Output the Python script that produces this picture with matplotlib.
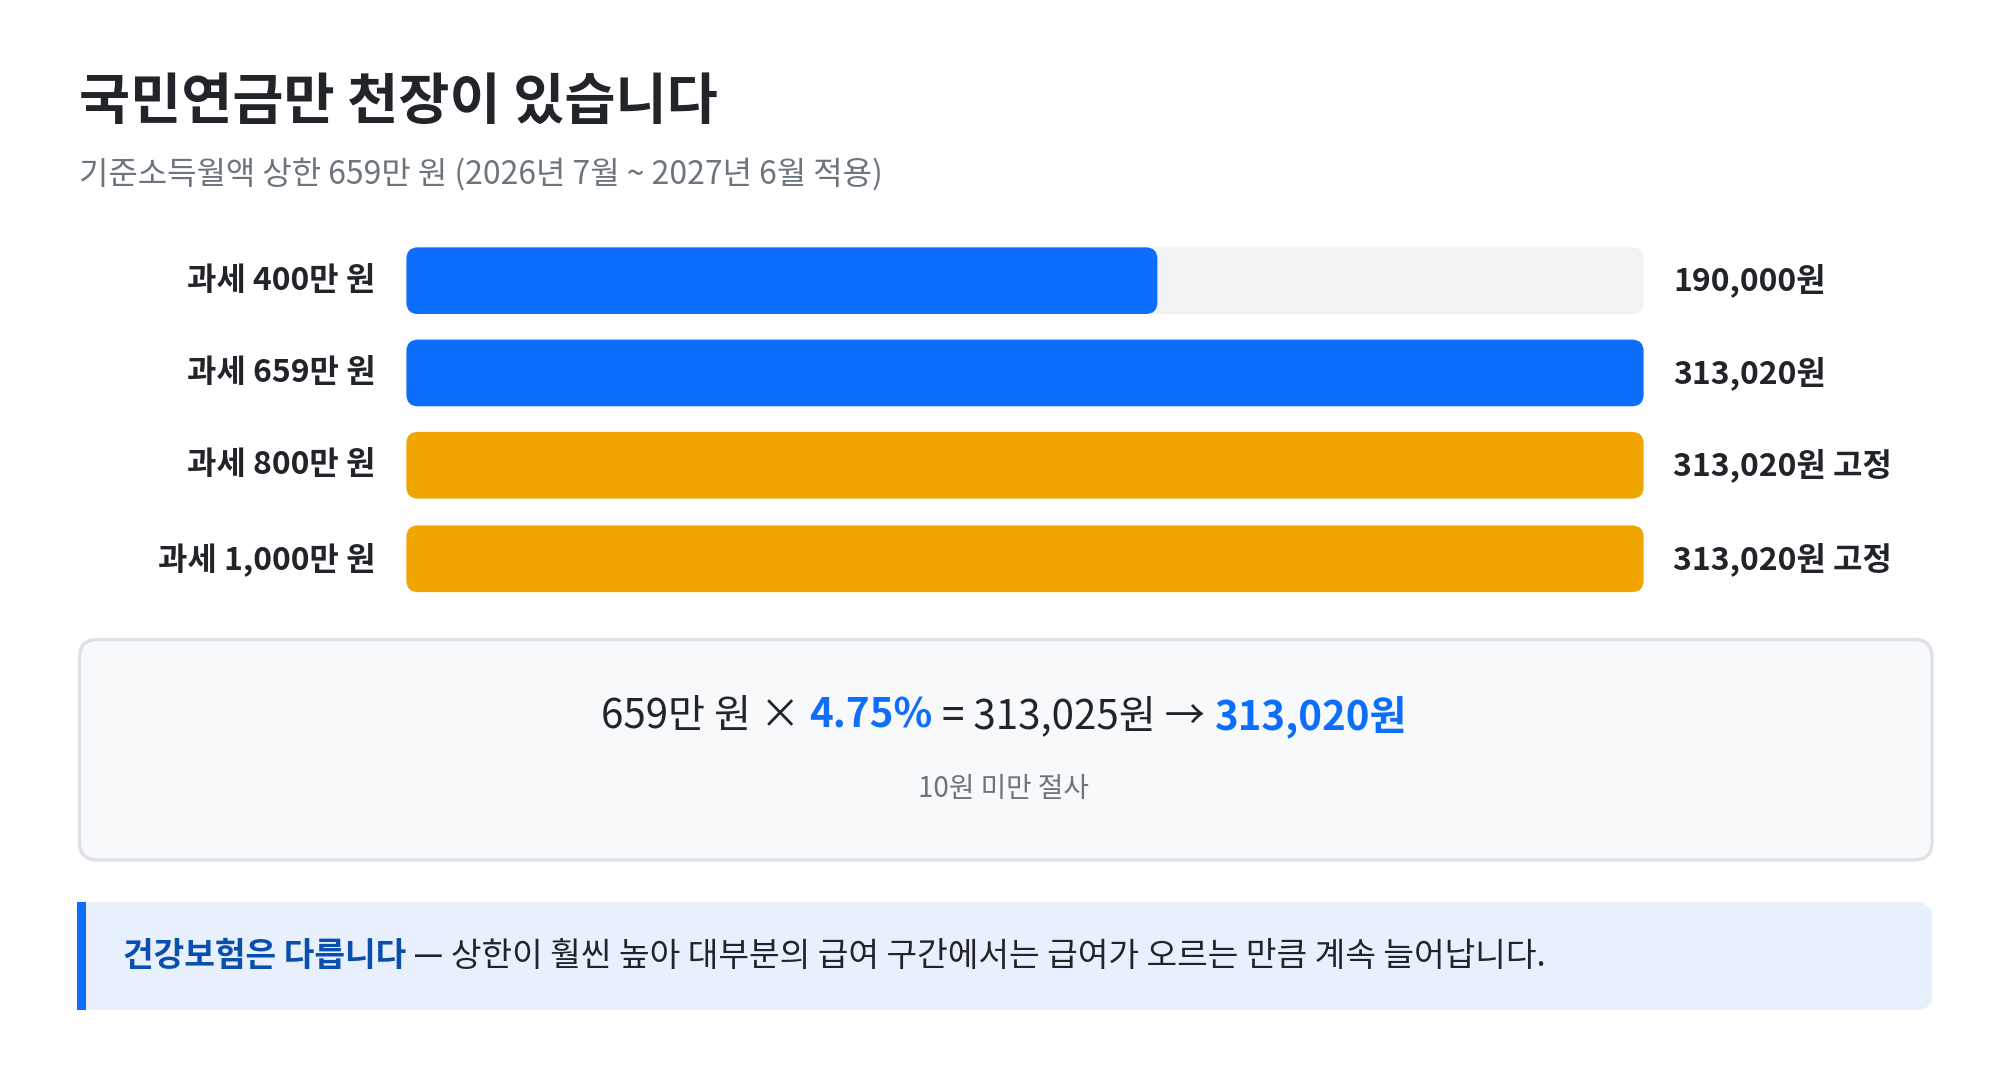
import matplotlib
matplotlib.use("Agg")
import matplotlib.pyplot as plt
from matplotlib.patches import FancyBboxPatch, Rectangle

plt.rcParams['font.family'] = ['Noto Sans CJK KR', 'DejaVu Sans']

title = "국민연금만 천장이 있습니다"
subtitle = "기준소득월액 상한 659만 원 (2026년 7월 ~ 2027년 6월 적용)"
labels = ["과세 400만 원", "과세 659만 원", "과세 800만 원", "과세 1,000만 원"]
values = [190000, 313020, 313020, 313020]
value_texts = ["190,000원", "313,020원", "313,020원 고정", "313,020원 고정"]
capped = [False, False, True, True]
max_value = 313020

BLUE = "#0d6efd"
ORANGE = "#f0a500"
DARK = "#212529"

W, H = 1560, 838
fig = plt.figure(figsize=(20, 10.74), dpi=100)
ax = fig.add_axes([0, 0, 1, 1])
ax.set_xlim(0, W)
ax.set_ylim(H, 0)
ax.axis("off")

ax.text(62, 80, title, fontsize=40, fontweight="bold", color=DARK, va="center")
ax.text(62, 136, subtitle, fontsize=23, color="#6c757d", va="center")

# bars
x0, x1 = 317, 1282
bar_h = 52
rows_y = [219, 291, 363, 436]
def scale(v):
    return x0 + v / max_value * (x1 - x0)

for lab, v, vt, cap, y in zip(labels, values, value_texts, capped, rows_y):
    ax.add_patch(FancyBboxPatch((x0, y - bar_h / 2), x1 - x0, bar_h,
                                boxstyle="round,pad=0,rounding_size=9",
                                fc="#f1f2f4", ec="none"))
    ax.add_patch(FancyBboxPatch((x0, y - bar_h / 2), scale(v) - x0, bar_h,
                                boxstyle="round,pad=0,rounding_size=9",
                                fc=ORANGE if cap else BLUE, ec="none"))
    ax.text(293, y, lab, fontsize=23, fontweight="bold", color=DARK, ha="right", va="center")
    ax.text(1305, y, vt, fontsize=23, fontweight="bold", color=DARK, ha="left", va="center")

# formula box
ax.add_patch(FancyBboxPatch((62, 499), 1445, 172, boxstyle="round,pad=0,rounding_size=14",
                            fc="#f8f9fa", ec="#dee2e6", lw=2.5))
pieces = [("659만 원 × ", DARK, "normal"), ("4.75%", BLUE, "bold"),
          (" = 313,025원 → ", DARK, "normal"), ("313,020원", BLUE, "bold")]
fig.canvas.draw()
r = fig.canvas.get_renderer()
objs = []
widths = []
for s, c, w in pieces:
    t = ax.text(0, 559, s, fontsize=29, color=c, fontweight=w, va="center", ha="left")
    bb = t.get_window_extent(renderer=r)
    objs.append(t)
    widths.append(bb.width * W / fig.bbox.width)
x = 783 - sum(widths) / 2
for t, w in zip(objs, widths):
    t.set_x(x)
    x += w
ax.text(783, 616, "10원 미만 절사", fontsize=20, color="#6c757d", ha="center", va="center")

# callout
ax.add_patch(FancyBboxPatch((60, 704), 1447, 84, boxstyle="round,pad=0,rounding_size=12",
                            fc="#e8f0fe", ec="none"))
ax.add_patch(Rectangle((60, 704), 7, 84, fc=BLUE, ec="none"))
t1 = ax.text(96, 746, "건강보험은 다릅니다", fontsize=24, fontweight="bold", color="#0b4fae", va="center")
bb = t1.get_window_extent(renderer=r)
ax.text(96 + bb.width * W / fig.bbox.width, 746,
        " — 상한이 훨씬 높아 대부분의 급여 구간에서는 급여가 오르는 만큼 계속 늘어납니다.",
        fontsize=24, color=DARK, va="center")

fig.savefig("out.png", dpi=100, facecolor="white")
